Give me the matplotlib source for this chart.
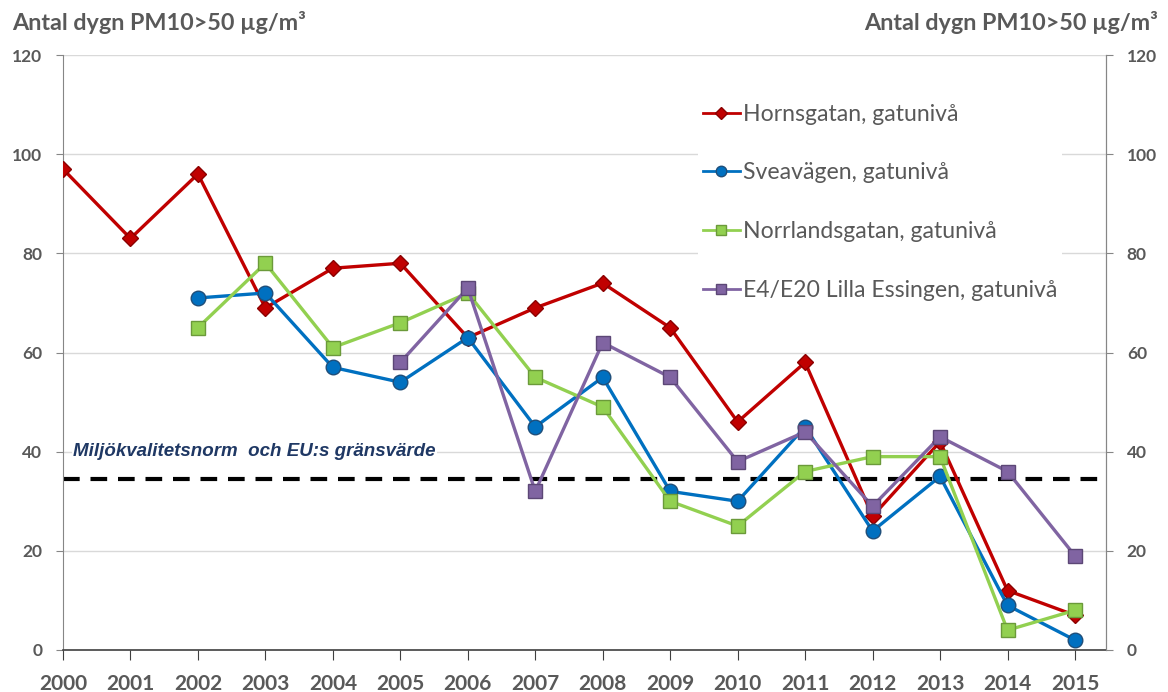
import matplotlib
matplotlib.use("Agg")
import matplotlib.pyplot as plt
import matplotlib.lines as mlines

years = list(range(2000, 2016))
horns_years = list(range(2000, 2016))
horns = [97, 83, 96, 69, 77, 78, 63, 69, 74, 65, 46, 58, 27, 42, 12, 7]
svea_years = list(range(2002, 2016))
svea = [71, 72, 57, 54, 63, 45, 55, 32, 30, 45, 24, 35, 9, 2]
norr_years = list(range(2002, 2016))
norr = [65, 78, 61, 66, 72, 55, 49, 30, 25, 36, 39, 39, 4, 8]
e4_years = list(range(2005, 2016))
e4 = [58, 73, 32, 62, 55, 38, 44, 29, 43, 36, 19]
norm_value = 34.5
yticks = [0, 20, 40, 60, 80, 100, 120]
ylabel = "Antal dygn PM10>50 µg/m³"
norm_label = "Miljökvalitetsnorm  och EU:s gränsvärde"
labels = ["Hornsgatan, gatunivå", "Sveavägen, gatunivå",
          "Norrlandsgatan, gatunivå", "E4/E20 Lilla Essingen, gatunivå"]

plt.rcParams['font.family'] = ['Lato', 'DejaVu Sans']
tick_col = '#595959'

fig = plt.figure(figsize=(11.68, 6.92), dpi=100)
ax = fig.add_axes([63/1168, 42/692, (1106-63)/1168, (650-55)/692])
ax.set_xlim(2000, 2015.46)
ax.set_ylim(0, 120)
ax.set_yticks(yticks)
ax.set_xticks(years)
ax.grid(axis='y', color='#D9D9D9', lw=1)
ax.set_axisbelow(True)
ax.spines['top'].set_visible(False)
ax.spines['left'].set_color('#868686')
ax.spines['right'].set_color('#868686')
ax.spines['bottom'].set_color('#404040')
ax.spines['bottom'].set_linewidth(1.2)
ax.tick_params(axis='y', direction='out', length=5, color='#868686', labelsize=12.5,
               labelcolor=tick_col, pad=10)
ax.tick_params(axis='x', direction='out', length=7, color='#404040', labelsize=15,
               labelcolor=tick_col, pad=10)
for t in ax.get_xticklabels() + ax.get_yticklabels():
    t.set_fontweight('bold')

ax2 = ax.twinx()
ax2.set_ylim(0, 120)
ax2.set_yticks(yticks)
ax2.tick_params(axis='y', direction='out', length=5, color='#868686', labelsize=12.5,
                labelcolor=tick_col, pad=10)
for t in ax2.get_yticklabels():
    t.set_fontweight('bold')
for s in ['top', 'left', 'bottom']:
    ax2.spines[s].set_visible(False)
ax2.spines['right'].set_color('#868686')

ax.axhline(norm_value, color='black', lw=3, ls=(0, (4, 2.6)), zorder=2)
ax.text(2000.15, 40, norm_label, fontsize=13.5, fontweight='bold', style='italic',
        family='Liberation Sans', color='#1F3864', va='center', ha='left',
        bbox=dict(facecolor='white', edgecolor='none', pad=1), zorder=3)

lw = 2.4
h1, = ax.plot(horns_years, horns, color='#C00000', lw=lw, marker='D', ms=8.5,
              mfc='#C00000', mec='#8B0000', mew=1, zorder=4)
h2, = ax.plot(svea_years, svea, color='#0070C0', lw=lw, marker='o', ms=10.5,
              mfc='#0070C0', mec='#1F4E79', mew=1, zorder=5)
h3, = ax.plot(norr_years, norr, color='#92D050', lw=lw, marker='s', ms=10,
              mfc='#92D050', mec='#6B9A3A', mew=1, zorder=6)
h4, = ax.plot(e4_years, e4, color='#8064A2', lw=lw, marker='s', ms=10,
              mfc='#8064A2', mec='#5C4776', mew=1, zorder=7)

handles = []
for h in [h1, h2, h3, h4]:
    hh = mlines.Line2D([], [], color=h.get_color(), lw=2, marker=h.get_marker(),
                       ms=h.get_markersize()*0.72, mfc=h.get_markerfacecolor(),
                       mec=h.get_markeredgecolor())
    handles.append(hh)
leg = ax.legend(handles, labels, loc='upper left',
                bbox_to_anchor=(698/1168, (692-99)/692), bbox_transform=fig.transFigure,
                frameon=True, facecolor='white', edgecolor='none', framealpha=1,
                fontsize=16.6, labelspacing=1.64, handlelength=1.6, handletextpad=0.15,
                borderpad=0.2, borderaxespad=0)
for t in leg.get_texts():
    t.set_color(tick_col)
leg.set_zorder(10)

fig.text(12/1168, 1 - 22/692, ylabel, fontsize=16.8, fontweight='bold', color=tick_col,
         ha='left', va='center')
fig.text(1158/1168, 1 - 22/692, ylabel, fontsize=16.8, fontweight='bold', color=tick_col,
         ha='right', va='center')

fig.savefig('out.png', dpi=100)
